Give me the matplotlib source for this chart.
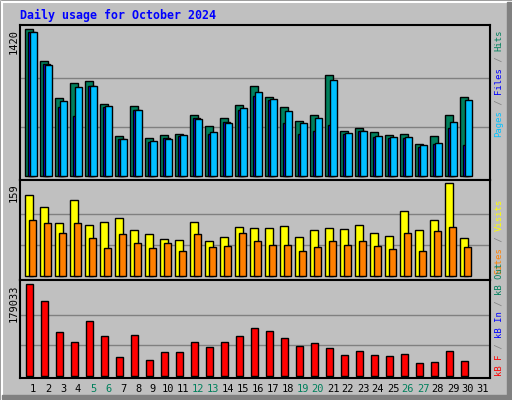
import numpy as np
import matplotlib.pyplot as plt
from matplotlib.patches import Rectangle

days = list(range(1, 32))
hits = [1420, 1111, 753, 898, 918, 696, 387, 676, 367, 396, 406, 589, 483, 560, 686,
        869, 763, 667, 531, 589, 976, 435, 464, 425, 396, 406, 309, 387, 589, 763]
files = [1391, 1072, 724, 860, 869, 676, 357, 638, 338, 357, 396, 551, 425, 512, 657,
         811, 744, 628, 512, 560, 927, 415, 435, 386, 377, 377, 299, 319, 522, 734]
pages = [1391, 1082, 667, 580, 869, 667, 357, 638, 328, 367, 386, 560, 406, 522, 638,
         773, 734, 512, 406, 435, 493, 406, 435, 377, 367, 367, 280, 309, 464, 299]
visits = [138, 118, 91, 130, 87, 92, 99, 79, 72, 63, 62, 92, 60, 67, 84,
          82, 82, 85, 67, 79, 82, 80, 87, 74, 68, 111, 79, 96, 159, 65]
sites = [96, 91, 74, 91, 65, 48, 72, 56, 48, 56, 43, 72, 50, 51, 74,
         60, 53, 53, 43, 50, 60, 53, 60, 51, 46, 74, 43, 77, 84, 50]
kbytes = [179033, 145950, 85620, 66160, 107030, 77840, 36970, 79790, 31130, 46700,
          46700, 66160, 56430, 66160, 77840, 93400, 87570, 73950, 58380, 64220,
          54490, 40870, 48650, 40870, 38920, 42810, 25300, 27240, 48650, 29190]
weekends = [5, 6, 12, 13, 19, 20, 26, 27]

W, H = 512, 400
BG = "#C0C0C0"
MONO = "DejaVu Sans Mono"
PX = 1 / 15  # one pixel in day units

fig = plt.figure(figsize=(W / 100, H / 100), dpi=100, facecolor=BG)

# bevelled frame
frame = fig.add_axes([0, 0, 1, 1])
frame.set_xlim(0, W)
frame.set_ylim(H, 0)
frame.axis("off")
frame.add_patch(Rectangle((0.5, 0.5), W - 1, H - 1, fill=False, ec="black", lw=1))
frame.add_patch(Rectangle((1.5, 1.5), W - 3, H - 3, fill=False, ec="white", lw=1.5))
frame.add_patch(Rectangle((W - 5, 2), 4, H - 3, color="#808080"))
frame.add_patch(Rectangle((2, H - 5), W - 3, 4, color="#808080"))


def make_axes(top, bottom):
    ax = fig.add_axes([20 / W, 1 - bottom / H, 470 / W, (bottom - top) / H])
    ax.set_facecolor(BG)
    ax.set_xlim(1 - 13 * PX, 1 + 457 * PX)
    ax.set_xticks([])
    ax.set_yticks([])
    for s in ax.spines.values():
        s.set_color("black")
        s.set_linewidth(1.5)
    return ax


def grid(ax, vmax):
    for k in (1, 2):
        ax.axhline(vmax * k / 3, color="#808080", lw=1, zorder=0)


x = np.array(days[:30])
bar = dict(edgecolor="black", linewidth=1, align="edge")

ax1 = make_axes(25, 180)
ax1.set_ylim(-38, 1459)
grid(ax1, 1420)
ax1.bar(x - 8 * PX, hits, 8 * PX, color="#00805C", **bar)
ax1.bar(x - 5 * PX, pages, 7 * PX, color="#0000FF", **bar)
ax1.bar(x - 3.5 * PX, files, 7 * PX, color="#00C0FF", **bar)

ax2 = make_axes(180, 280)
ax2.set_ylim(-6.8, 164)
grid(ax2, 159)
ax2.bar(x - 8 * PX, visits, 8 * PX, color="#FFFF00", **bar)
ax2.bar(x - 4 * PX, sites, 7 * PX, color="#FF8000", **bar)

ax3 = make_axes(280, 378)
ax3.set_ylim(-3900, 96 * 1946)
grid(ax3, 179033)
ax3.bar(x - 7.5 * PX, kbytes, 7 * PX, color="#FF0000", **bar)

fig.text(20 / W, 1 - 15 / H, "Daily usage for October 2024", family=MONO,
         weight="bold", fontsize=8.4, color="#0000FF", va="center")

for label, ypx in (("1420", 29), ("159", 183), ("179033", 284)):
    fig.text(14 / W, 1 - ypx / H, label, family=MONO, fontsize=7.5,
             rotation=90, ha="center", va="top")

for d in days:
    fig.text((33 + 15 * (d - 1)) / W, 1 - 389 / H, str(d), family=MONO,
             fontsize=7.5, ha="center", va="center",
             color="#00805C" if d in weekends else "black")


def side_label(pieces, ybottom):
    # vertical multicolour legend, reading bottom to top
    y = ybottom
    for text, color in pieces:
        fig.text(499 / W, 1 - y / H, text, family=MONO, fontsize=6.4,
                 rotation=90, ha="center", va="bottom", color=color)
        y -= 5.4 * len(text)


side_label([("Pages", "#00C0FF"), (" / ", "#808080"), ("Files", "#0000FF"),
            (" / ", "#808080"), ("Hits", "#00805C")], 137)
side_label([("Sites", "#FF8000"), (" / ", "#808080"), ("Visits", "#FFFF00")], 274)
side_label([("kB F", "#FF0000"), (" / ", "#808080"), ("kB In", "#0000FF"),
            (" / ", "#808080"), ("kB Out", "#00805C")], 376)

fig.savefig("out.png", dpi=100, facecolor=BG)
